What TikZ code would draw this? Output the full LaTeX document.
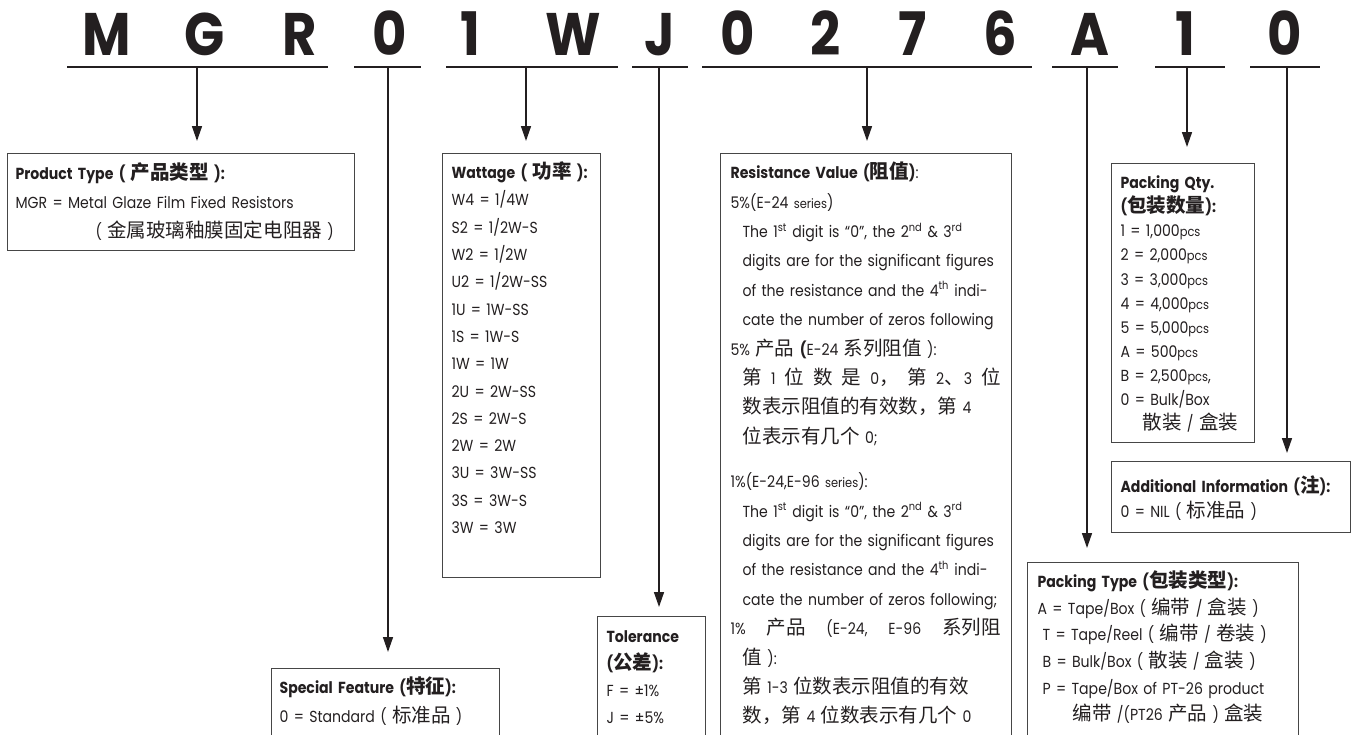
\documentclass[tikz,border=0pt]{standalone}
\usepackage{fontspec}
\setmainfont{Poppins}[FakeStretch=0.88]
\newfontfamily\zhfont[Scale=1.22]{Noto Sans CJK SC}
\newcommand{\zh}[1]{{\zhfont #1}}
\newcommand{\sm}[1]{{\fontsize{13}{10}\selectfont #1}}
\newcommand{\jline}[2][258pt]{\makebox[#1][l]{#2}}
\newcommand{\bodysize}[1]{\fontsize{16}{#1}\selectfont\lineskiplimit=-100pt\lineskip=0pt}
\usetikzlibrary{arrows.meta}
\definecolor{inkGray}{RGB}{35,31,32}
\definecolor{frameGray}{RGB}{70,70,70}
\tikzset{
  code/.style={font=\fontsize{60}{60}\selectfont\bfseries, text=inkGray, anchor=base, inner sep=0pt},
  uline/.style={line width=2.5pt, draw=inkGray},
  lead/.style={line width=1.5pt, draw=inkGray, -{Triangle[length=15pt,width=10pt]}, shorten >=12pt},
  infobox/.style={draw=frameGray, line width=1.2pt, anchor=north west, align=left,
    inner ysep=0pt, text=inkGray}
}

\begin{document}
\begin{tikzpicture}[x=1pt,y=-1pt]
  \useasboundingbox (0,0) rectangle (1352,734);
  \clip (0,0) rectangle (1352,734);

  % part number
  \foreach \x/\c [count=\i] in {107/M,205/G,300/R,390/0,470/1,573/W,660/J,738/0,826/2,913/7,1000/6,1090/A,1185/1,1285/0}
    \node[code] (c\i) at (\x,55) {\c};

  % one underline per field
  \foreach \f/\a/\b/\m in {MGR/67/328/197, SF/354/421/388, WT/446/618/526, TL/632/688/659,
      RV/702/1032/867, PT/1052/1118/1087, PQ/1155/1225/1187, AI/1250/1320/1287}{
    \draw[uline] (\a,67) -- (\b,67);
    \coordinate (u\f) at (\m,67);
  }

  \node[infobox, inner xsep=8pt, text width=331pt, text height=26pt, text depth=71pt,
    font=\bodysize{29}] (ptype) at (7,153) {%
    \textbf{Product Type ( \zh{产品类型} ):}\\
    MGR = Metal Glaze Film Fixed Resistors\\
    \hspace*{80pt}( \zh{金属玻璃釉膜固定电阻器} )};

  \node[infobox, inner xsep=9pt, text width=140pt, text height=25pt, text depth=399pt,
    font=\bodysize{27.3}] (watt) at (442,153) {%
    \textbf{Wattage ( \zh{功率} ):}\\
    W4 = 1/4W\\
    S2\ = 1/2W-S\\
    W2 = 1/2W\\
    U2\ = 1/2W-SS\\
    1U\ = 1W-SS\\
    1S\ = 1W-S\\
    1W = 1W\\
    2U\ = 2W-SS\\
    2S\ = 2W-S\\
    2W = 2W\\
    3U\ = 3W-SS\\
    3S\ = 3W-S\\
    3W = 3W};

  \node[infobox, inner xsep=10pt, text width=271pt, text height=25pt, text depth=600pt,
    font=\bodysize{29.4}] (resist) at (720,153) {%
    \textbf{Resistance Value (\zh{阻值})}:\\
    5\%(E-24 \sm{series})\\
    \hspace*{12pt}The 1\textsuperscript{st} digit is “0”, the 2\textsuperscript{nd}\ \& 3\textsuperscript{rd}\\
    \hspace*{12pt}digits are for the significant figures\\
    \hspace*{12pt}of the resistance and the 4\textsuperscript{th} indi-\\
    \hspace*{12pt}cate the number of zeros following\\
    5\% \zh{产品} \textbf{(}E-24 \zh{系列阻值} ):\\
    \hspace*{12pt}\jline{\zh{第}\hfill 1\hfill\zh{位}\hfill\zh{数}\hfill\zh{是}\hfill 0\zh{，}\hfill\zh{第}\hfill 2\zh{、}3\hfill\zh{位}}\\
    \hspace*{12pt}\zh{数表示阻值的有效数，第} 4\\
    \hspace*{12pt}\zh{位表示有几个} 0;\\[15pt]
    1\%(E-24,E-96 \sm{series}):\\
    \hspace*{12pt}The 1\textsuperscript{st} digit is “0”, the 2\textsuperscript{nd} \& 3\textsuperscript{rd}\\
    \hspace*{12pt}digits are for the significant figures\\
    \hspace*{12pt}of the resistance and the 4\textsuperscript{th} indi-\\
    \hspace*{12pt}cate the number of zeros following;\\
    \jline[270pt]{1\%\hfill\zh{产品}\hfill(E-24,\hfill E-96\hfill\zh{系列阻}}\\
    \hspace*{12pt}\zh{值} ):\\
    \hspace*{12pt}\zh{第} 1-3 \zh{位数表示阻值的有效}\\
    \hspace*{12pt}\zh{数，第} 4 \zh{位数表示有几个} 0};

  \node[infobox, inner xsep=9pt, text width=125pt, text height=25pt, text depth=254pt,
    font=\bodysize{24.1}] (packqty) at (1111,163) {%
    \textbf{Packing Qty.}\\
    \textbf{(\zh{包装数量}):}\\
    1 = 1,000\sm{pcs}\\
    2 = 2,000\sm{pcs}\\
    3 = 3,000\sm{pcs}\\
    4 = 4,000\sm{pcs}\\
    5 = 5,000\sm{pcs}\\
    A = 500\sm{pcs}\\
    B = 2,500\sm{pcs},\\
    0 = Bulk/Box\\
    \hspace*{22pt}\zh{散装} / \zh{盒装}};

  \node[infobox, inner xsep=9pt, text width=221pt, text height=31pt, text depth=40pt,
    font=\bodysize{25}] (addinfo) at (1111,461) {%
    \textbf{Additional Information (\zh{注}):}\\
    0 = NIL ( \zh{标准品} )};

  \node[infobox, inner xsep=10pt, text width=251pt, text height=25pt, text depth=300pt,
    font=\bodysize{26.6}] (packtype) at (1027,562) {%
    \textbf{Packing Type (\zh{包装类型}):}\\
    A = Tape/Box ( \zh{编带} / \zh{盒装} )\\
    \hspace*{5pt}T = Tape/Reel ( \zh{编带} / \zh{卷装} )\\
    \hspace*{5pt}B = Bulk/Box ( \zh{散装} / \zh{盒装} )\\
    \hspace*{5pt}P = Tape/Box of PT-26 product\\
    \hspace*{35pt}\zh{编带} /(PT26 \zh{产品} ) \zh{盒装}};

  \node[infobox, inner xsep=8pt, text width=212pt, text height=25pt, text depth=200pt,
    font=\bodysize{29}] (special) at (271,668) {%
    \textbf{Special Feature (\zh{特征}):}\\
    0 = Standard ( \zh{标准品} )};

  \node[infobox, inner xsep=9pt, text width=90pt, text height=26pt, text depth=200pt,
    font=\bodysize{27}] (tol) at (597,616) {%
    \textbf{Tolerance}\\
    \textbf{(\zh{公差}):}\\
    F = ±1\%\\
    J = ±5\%};

  % leads from each field to its box
  \draw[lead] (uMGR) -- (uMGR |- ptype.north);
  \draw[lead, shorten >=16pt] (uSF) -- (uSF |- special.north);
  \draw[lead] (uWT) -- (uWT |- watt.north);
  \draw[lead, shorten >=9pt] (uTL) -- (uTL |- tol.north);
  \draw[lead] (uRV) -- (uRV |- resist.north);
  \draw[lead, shorten >=14pt] (uPT) -- (uPT |- packtype.north);
  \draw[lead, shorten >=16pt] (uPQ) -- (uPQ |- packqty.north);
  \draw[lead, shorten >=8pt] (uAI) -- (uAI |- addinfo.north);
\end{tikzpicture}
\end{document}
